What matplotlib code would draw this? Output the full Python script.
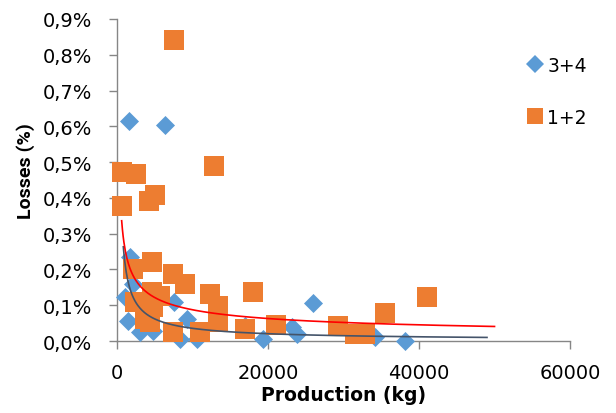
import numpy as np
import matplotlib
matplotlib.use('Agg')
import matplotlib.pyplot as plt
from matplotlib.lines import Line2D
from matplotlib.ticker import FuncFormatter, MultipleLocator

# production (kg) vs losses (%)
prod_34 = [1600, 6320, 1700, 1020, 1420, 3000, 4770, 7500, 8300, 9300,
           10500, 16910, 19340, 23100, 23760, 25960, 34130, 38100, 2100]
loss_34 = [0.614, 0.605, 0.234, 0.123, 0.056, 0.025, 0.029, 0.110, 0.006, 0.062,
           0.006, 0.043, 0.006, 0.038, 0.020, 0.106, 0.010, 0.001, 0.160]

prod_12 = [7510, 580, 2440, 12810, 4990, 4240, 580, 4550, 2120, 7420,
           8970, 12280, 13380, 13380, 18010, 16910, 21100, 7420, 10950, 2350,
           4550, 5650, 4740, 3670, 4330, 29270, 31480, 32800, 35450, 41110]
loss_12 = [0.840, 0.472, 0.468, 0.488, 0.407, 0.390, 0.377, 0.221, 0.202, 0.188,
           0.160, 0.132, 0.099, 0.054, 0.136, 0.034, 0.046, 0.025, 0.025, 0.109,
           0.136, 0.127, 0.095, 0.062, 0.052, 0.043, 0.020, 0.020, 0.078, 0.122]

# power trendlines  y = a * x**b  (coefficients)
a_34, b_34, xmin_34, xmax_34 = 53.5, -0.795, 800, 49000
a_12, b_12, xmin_12, xmax_12 = 6.86, -0.474, 580, 50000

blue = '#5B9BD5'
orange = '#ED7D31'
grey = '#868686'

fig = plt.figure(figsize=(6.16, 4.14), dpi=100)
ax = fig.add_axes([0.1904, 0.1739, 0.7349, 0.7778])

ax.scatter(prod_34, loss_34, marker='D', s=94, color=blue, linewidths=0,
           clip_on=False, zorder=3)
ax.scatter(prod_12, loss_12, marker='s', s=196, color=orange, linewidths=0,
           clip_on=False, zorder=4)

x = np.linspace(xmin_34, xmax_34, 500)
ax.plot(x, a_34 * x ** b_34, color='#44546A', lw=1.2, zorder=5)
x = np.linspace(xmin_12, xmax_12, 500)
ax.plot(x, a_12 * x ** b_12, color='#FF0000', lw=1.2, zorder=6)

ax.set_xlim(0, 60000)
ax.set_ylim(0, 0.9)
ax.xaxis.set_major_locator(MultipleLocator(20000))
ax.yaxis.set_major_locator(MultipleLocator(0.1))
ax.yaxis.set_major_formatter(FuncFormatter(lambda v, p: f'{v:.1f}'.replace('.', ',') + '%'))

for s in ['top', 'right']:
    ax.spines[s].set_visible(False)
for s in ['left', 'bottom']:
    ax.spines[s].set_color(grey)
    ax.spines[s].set_linewidth(1.0)
    ax.spines[s].set_zorder(2)
ax.tick_params(axis='both', direction='out', length=6, width=1.0, color=grey,
               labelsize=14, pad=10)
ax.tick_params(axis='y', pad=12)

ax.set_xlabel('Production (kg)', fontsize=13.5, fontweight='bold', labelpad=2)
fig.text(26 / 616, 1 - 171 / 414, 'Losses (%)', rotation=90, ha='center',
         va='center', fontsize=14, fontweight='bold', family='Roboto')

handles = [Line2D([], [], marker='D', ls='', color=blue, ms=8.8, mew=0),
           Line2D([], [], marker='s', ls='', color=orange, ms=12, mew=0)]
fig.legend(handles, ['3+4', '1+2'], loc='upper left', bbox_to_anchor=(0.8385, 0.885),
           frameon=False, fontsize=13.5, handlelength=1.0, handletextpad=0.15,
           labelspacing=1.75, borderpad=0)

fig.savefig('out.png', dpi=100)
